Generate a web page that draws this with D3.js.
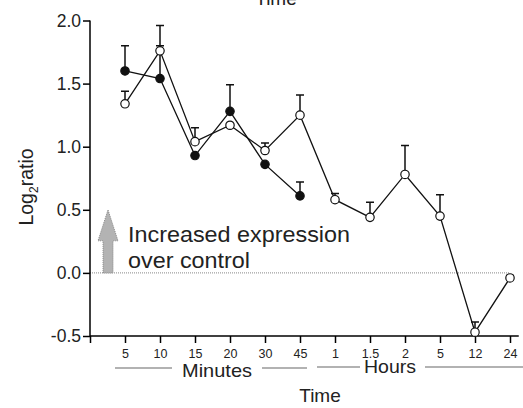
<!DOCTYPE html>
<html>
<head>
<meta charset="utf-8">
<script src="https://cdn.jsdelivr.net/npm/d3@7"></script>
<style>
  body { margin: 0; background: #fff; }
  svg { font-family: "Liberation Sans", Arial, sans-serif; }
</style>
</head>
<body>
<svg id="chart" width="523" height="408"></svg>
<script>
// time points (minutes then hours)
var timeLabels = ["5", "10", "15", "20", "30", "45", "1", "1.5", "2", "5", "12", "24"];
// filled series - only minute points
var filledVals = [1.60, 1.54, 0.93, 1.28, 0.86, 0.61];
var filledErr  = [1.80, 1.80, null, 1.49, null, 0.72];
// open series - all points
var openVals = [1.34, 1.76, 1.04, 1.17, 0.97, 1.25, 0.58, 0.44, 0.78, 0.45, -0.47, -0.04];
var openErr  = [1.44, 1.96, 1.15, null, 1.03, 1.41, 0.63, 0.56, 1.01, 0.62, -0.39, -0.02];
var yTicks = [-0.5, 0.0, 0.5, 1.0, 1.5, 2.0];

var svg = d3.select("#chart");

var x = d3.scaleLinear().domain([0, 12]).range([90, 510]);
var y = d3.scaleLinear().domain([-0.5, 2.0]).range([336, 20.5]);

// zero line
svg.append("line")
    .attr("x1", x(0)).attr("x2", x(12))
    .attr("y1", y(0)).attr("y2", y(0))
    .attr("stroke", "#888").attr("stroke-width", 1)
    .attr("stroke-dasharray", "1,1");

// arrow
var ax = 108, aw = 5, hw = 10;
svg.append("path")
    .attr("d", "M" + (ax - aw) + "," + y(0) +
        " L" + (ax - aw) + "," + (y(0.5) + 31) +
        " L" + (ax - hw) + "," + (y(0.5) + 31) +
        " L" + ax + "," + y(0.5) +
        " L" + (ax + hw) + "," + (y(0.5) + 31) +
        " L" + (ax + aw) + "," + (y(0.5) + 31) +
        " L" + (ax + aw) + "," + y(0) + " Z")
    .attr("fill", "#b3b3b3")
    .attr("stroke", "#8a8a8a").attr("stroke-width", 1)
    .attr("stroke-dasharray", "1,1");

svg.append("text").attr("x", 128).attr("y", 242)
    .attr("font-size", "22.5px").attr("fill", "#222")
    .attr("textLength", 222).attr("lengthAdjust", "spacingAndGlyphs")
    .text("Increased expression");
svg.append("text").attr("x", 128).attr("y", 268)
    .attr("font-size", "22.5px").attr("fill", "#222")
    .attr("textLength", 122).attr("lengthAdjust", "spacingAndGlyphs")
    .text("over control");

// y axis
var yAxis = svg.append("g")
    .attr("transform", "translate(90,0)")
    .call(d3.axisLeft(y).tickValues(yTicks).tickSize(7).tickPadding(2)
        .tickFormat(function (d) { return d3.format(".1f")(d).replace("\u2212", "-"); }));
yAxis.select(".domain").attr("stroke-width", 1.5).attr("d", "M0," + y(2.0) + "V" + y(-0.5));
yAxis.selectAll(".tick line").attr("stroke-width", 1.5);
yAxis.selectAll("text").attr("font-size", "17.5px").attr("fill", "#222")
    .attr("font-family", "Liberation Sans, Arial, sans-serif");

// x axis
var xAxis = svg.append("g")
    .attr("transform", "translate(0," + y(-0.5) + ")")
    .call(d3.axisBottom(x).tickValues(d3.range(0, 13)).tickSize(7).tickPadding(6)
        .tickFormat(function (d) { return d === 0 ? "" : timeLabels[d - 1]; }));
xAxis.select(".domain").attr("stroke-width", 1.5).attr("d", "M" + x(0) + ",0H" + x(12.25));
xAxis.selectAll(".tick line").attr("stroke-width", 1.5);
xAxis.selectAll("text").attr("font-size", "12.5px").attr("fill", "#222")
    .attr("font-family", "Liberation Sans, Arial, sans-serif");

// group labels under x axis
var groupLines = [[115, 172, 368], [262, 307, 368], [317, 360, 367], [425, 523, 367]];
svg.selectAll(".grp")
    .data(groupLines).enter().append("line")
    .attr("x1", function (d) { return d[0]; })
    .attr("x2", function (d) { return d[1]; })
    .attr("y1", function (d) { return d[2]; })
    .attr("y2", function (d) { return d[2]; })
    .attr("stroke", "#999").attr("stroke-width", 1.5);
svg.append("text").attr("x", 217).attr("y", 377).attr("text-anchor", "middle")
    .attr("font-size", "19px").attr("fill", "#222")
    .attr("textLength", 70).attr("lengthAdjust", "spacingAndGlyphs").text("Minutes");
svg.append("text").attr("x", 390).attr("y", 373).attr("text-anchor", "middle")
    .attr("font-size", "19px").attr("fill", "#222")
    .attr("textLength", 52).attr("lengthAdjust", "spacingAndGlyphs").text("Hours");
svg.append("text").attr("x", 320).attr("y", 402).attr("text-anchor", "middle")
    .attr("font-size", "19px").attr("fill", "#222").text("Time");

// title cut off at top
svg.append("text").attr("x", 276).attr("y", 5).attr("text-anchor", "middle")
    .attr("font-size", "19px").attr("fill", "#222").text("Time");

// y label
var yl = svg.append("text")
    .attr("transform", "translate(33,187) rotate(-90)")
    .attr("text-anchor", "middle")
    .attr("font-size", "19.5px").attr("fill", "#222");
yl.append("tspan").text("Log");
yl.append("tspan").attr("font-size", "12px").attr("dy", 5).text("2");
yl.append("tspan").attr("dy", -5).text("ratio");

function drawSeries(vals, errs, filled) {
    var pts = vals.map(function (v, i) { return { i: i + 1, v: v, e: errs[i] }; });
    var g = svg.append("g");
    g.selectAll(".err").data(pts.filter(function (d) { return d.e != null; }))
        .enter().append("path")
        .attr("d", function (d) {
            return "M" + x(d.i) + "," + y(d.v) + "V" + y(d.e) +
                "M" + (x(d.i) - 4) + "," + y(d.e) + "H" + (x(d.i) + 4);
        })
        .attr("stroke", "#111").attr("stroke-width", 1.5).attr("fill", "none");
    g.append("path").datum(pts)
        .attr("d", d3.line().x(function (d) { return x(d.i); }).y(function (d) { return y(d.v); }))
        .attr("stroke", "#111").attr("stroke-width", 1.3).attr("fill", "none");
    g.selectAll("circle").data(pts).enter().append("circle")
        .attr("cx", function (d) { return x(d.i); })
        .attr("cy", function (d) { return y(d.v); })
        .attr("r", 4.2)
        .attr("fill", filled ? "#111" : "#fff")
        .attr("stroke", "#111").attr("stroke-width", 1.2);
}

drawSeries(filledVals, filledErr, true);
drawSeries(openVals, openErr, false);
</script>
</body>
</html>
